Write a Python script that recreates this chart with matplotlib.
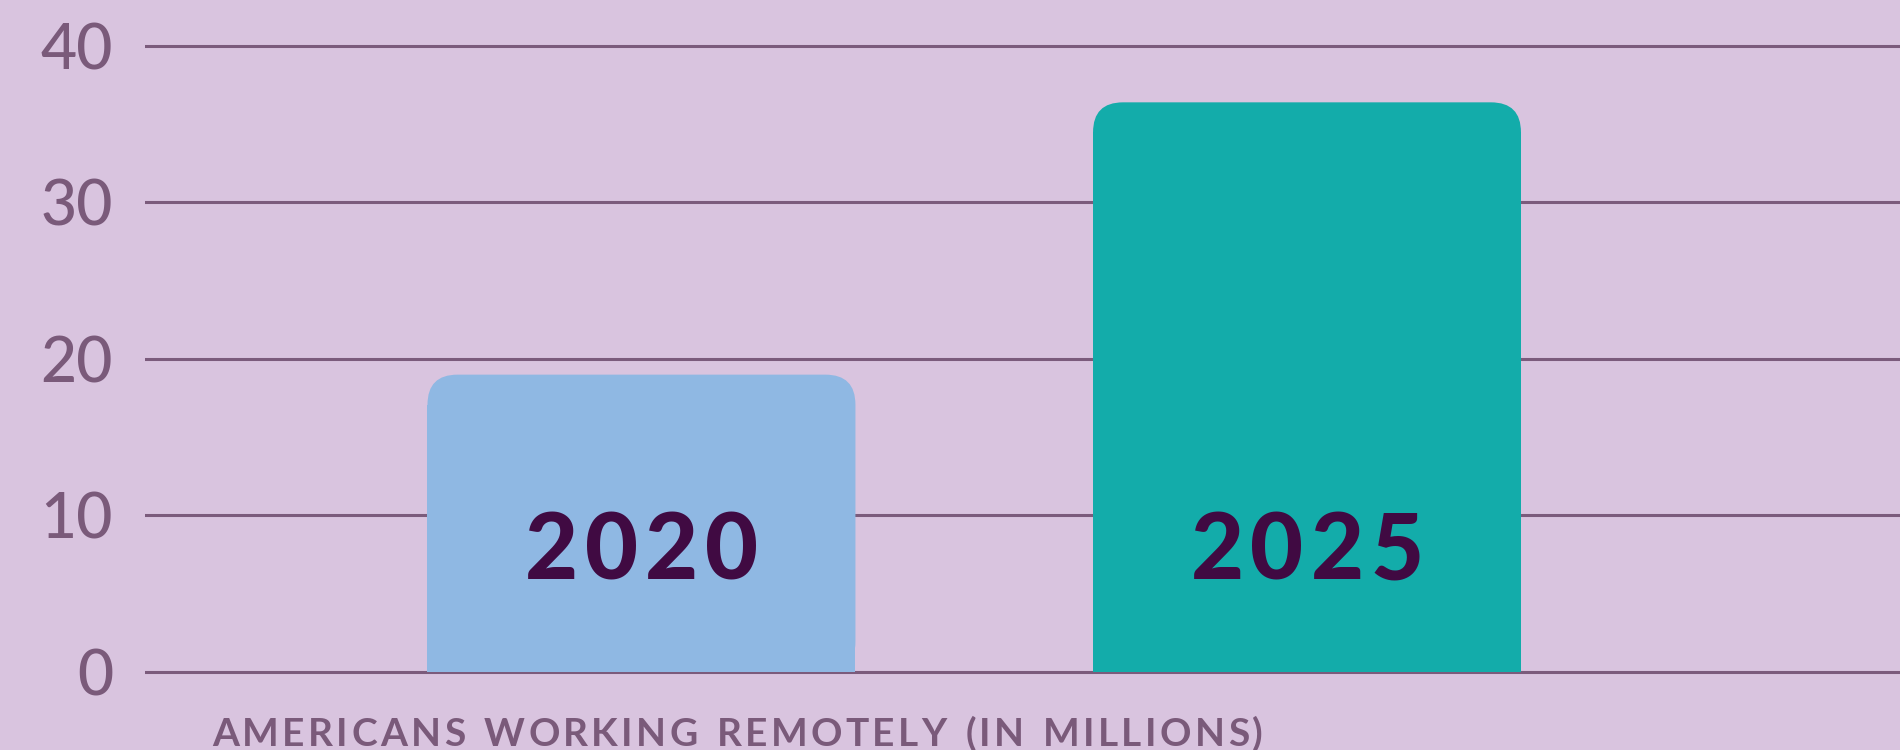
import matplotlib.pyplot as plt
from matplotlib.patches import FancyBboxPatch
from matplotlib.font_manager import FontProperties
from matplotlib.transforms import offset_copy

# data
years = ['2020', '2025']
remote_millions = [19.0, 36.4]
bar_colors = ['#8FB8E3', '#13ACAA']
yticks = [0, 10, 20, 30, 40]
xlabel = 'AMERICANS WORKING REMOTELY (IN MILLIONS)'

bg = '#D9C4DF'
muted = '#7A5A7A'
dark = '#400A42'

plt.rcParams['font.family'] = ['Lato', 'DejaVu Sans']

fig = plt.figure(figsize=(19, 7.5), dpi=100, facecolor=bg)
ax = fig.add_axes([0.0763, 0.0936, 0.9237, 0.8555])
ax.set_facecolor(bg)
renderer = fig.canvas.get_renderer()


def spaced_text(x, y, s, width_px, transform, ha='center', **kw):
    # draw letters one by one so the string spans width_px pixels
    prop = FontProperties(family=['Lato', 'DejaVu Sans'],
                          size=kw.get('fontsize', 12),
                          weight=kw.get('fontweight', 'normal'))
    widths = [renderer.get_text_width_height_descent(ch, prop, ismath=False)[0]
              for ch in s]
    space_w = renderer.get_text_width_height_descent('n n', prop, False)[0] - \
        renderer.get_text_width_height_descent('nn', prop, False)[0]
    widths = [w if ch != ' ' else space_w * 1.3 for w, ch in zip(widths, s)]
    track = (width_px - sum(widths)) / (len(s) - 1)
    off = -width_px / 2 if ha == 'center' else 0
    for ch, w in zip(s, widths):
        if ch != ' ':
            tr = offset_copy(transform, fig=fig, x=off * 72 / fig.dpi, y=0,
                             units='points')
            t = ax.text(x, y, ch, transform=tr, ha='left', **kw)
            t.set_clip_on(False)
        off += w + track


ax.set_xlim(-0.746, 1.891)
ax.set_ylim(-0.5, 40.5)

x_pos = list(range(len(years)))
width = 0.643
bars = ax.bar(x_pos, remote_millions, width, color=bar_colors, zorder=2)

# round the top corners of each bar
px_x = 0.9237 * 1900 / (1.891 + 0.746)
px_y = 0.8555 * 750 / 41.0
rx = 30 / px_x
ry = 30 / px_y
for rect, c in zip(bars, bar_colors):
    x0, w, h = rect.get_x(), rect.get_width(), rect.get_height()
    rect.set_height(h - ry)
    top = FancyBboxPatch((x0, 0), w, h,
                         boxstyle='round,pad=0,rounding_size=%f' % rx,
                         mutation_aspect=ry / rx,
                         facecolor=c, edgecolor='none', zorder=2)
    ax.add_patch(top)

for i, yr in enumerate(years):
    spaced_text(i, 8.1, yr, 233, ax.transData, ha='center',
                va='center_baseline', fontsize=66, fontweight='black',
                color=dark, zorder=3)

ax.set_yticks(yticks)
ax.set_yticklabels([str(t) for t in yticks])
ax.set_xticks([])
ax.tick_params(axis='y', length=0, pad=23, labelsize=45, labelcolor=muted)
for lab in ax.get_yticklabels():
    lab.set_fontweight('medium')
ax.yaxis.grid(True, color='#7B5B7C', linewidth=2.2)
ax.set_axisbelow(True)
for s in ax.spines.values():
    s.set_visible(False)

spaced_text(212 / 1900, 4 / 750, xlabel, 1051, fig.transFigure, ha='left',
            va='baseline', fontsize=28, fontweight='bold', color=muted)

plt.savefig('out.png', facecolor=bg)
